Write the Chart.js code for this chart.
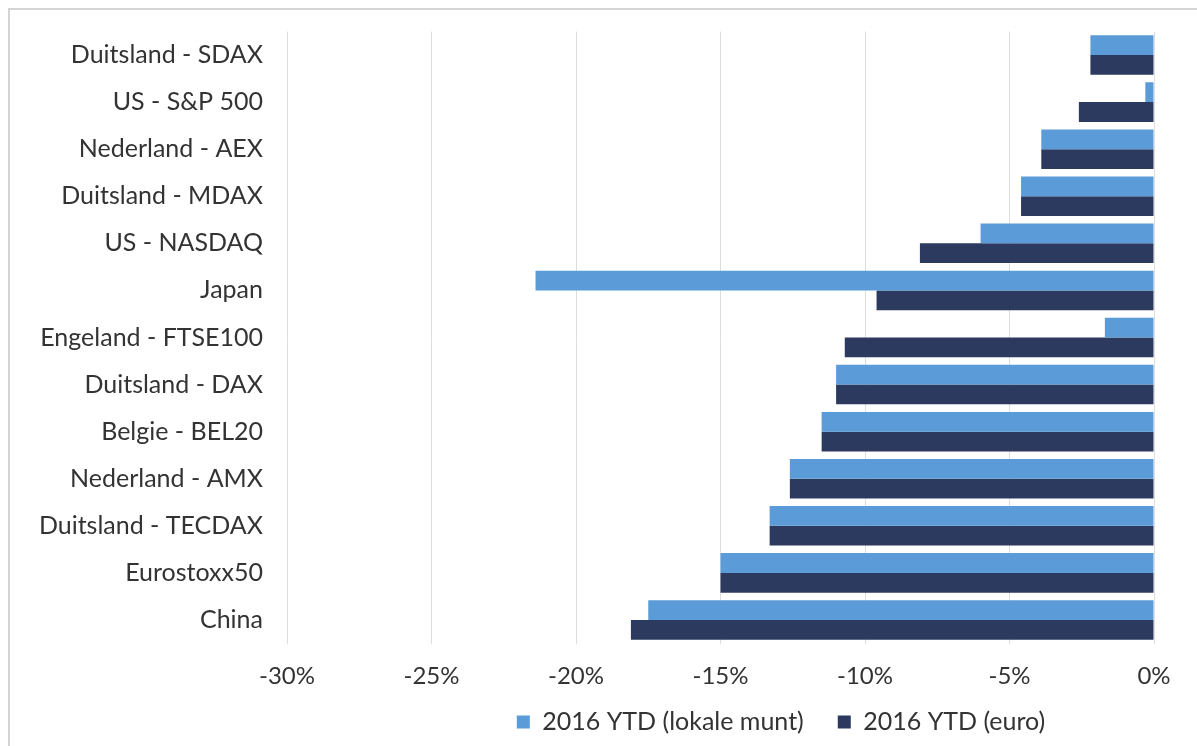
<!DOCTYPE html>
<html>
<head>
<meta charset="utf-8">
<script src="https://cdn.jsdelivr.net/npm/chart.js@4/dist/chart.umd.min.js"></script>
<style>
  html, body { margin: 0; padding: 0; background: #fff; }
  #wrap { position: relative; width: 1197px; height: 746px; }
  #frame { position: absolute; left: 8px; top: 8px; right: 0; bottom: 0;
           border-left: 2px solid #d4d4d4; border-top: 2px solid #d4d4d4; }
  #chart { position: absolute; left: 0; top: 0; }
</style>
</head>
<body>
<div id="wrap">
  <div id="frame"></div>
  <canvas id="chart" width="1197" height="746"></canvas>
</div>
<script>
const labels = [
  'Duitsland - SDAX', 'US - S&P 500', 'Nederland - AEX', 'Duitsland - MDAX',
  'US - NASDAQ', 'Japan', 'Engeland - FTSE100', 'Duitsland - DAX',
  'Belgie - BEL20', 'Nederland - AMX', 'Duitsland - TECDAX', 'Eurostoxx50', 'China'
];
const lokaleMunt = [-2.2, -0.3, -3.9, -4.6, -6.0, -21.4, -1.7, -11.0, -11.5, -12.6, -13.3, -15.0, -17.5];
const euro = [-2.2, -2.6, -3.9, -4.6, -8.1, -9.6, -10.7, -11.0, -11.5, -12.6, -13.3, -15.0, -18.1];
const xTicks = [-30, -25, -20, -15, -10, -5, 0];

const FONT = 'Lato, "Open Sans", sans-serif';
const TEXT = '#333333';
const LEGEND_PAD = 34;
const LEGEND_FONT = 25;

// move the legend to where the original has it (centre x 781, text centre y 722)
const legendShift = {
  id: 'legendShift',
  afterLayout(chart) {
    const lg = chart.legend;
    const dx = 781 - (lg.left + lg.right) / 2;
    lg.left += dx;
    lg.right += dx;
    lg.top = 722 - LEGEND_PAD - LEGEND_FONT / 2;
    lg.bottom = lg.top + LEGEND_PAD + LEGEND_FONT + 20;
  }
};

new Chart(document.getElementById('chart').getContext('2d'), {
  type: 'bar',
  data: {
    labels: labels,
    datasets: [
      {
        label: '2016 YTD (lokale munt)',
        data: lokaleMunt,
        backgroundColor: '#5a9bd8',
        categoryPercentage: 0.84,
        barPercentage: 1.0
      },
      {
        label: '2016 YTD (euro)',
        data: euro,
        backgroundColor: '#2b3a5e',
        categoryPercentage: 0.84,
        barPercentage: 1.0
      }
    ]
  },
  plugins: [legendShift],
  options: {
    indexAxis: 'y',
    responsive: false,
    animation: false,
    layout: {
      padding: { top: 31.5, left: 0, right: 43, bottom: 12.5 }
    },
    plugins: {
      legend: {
        position: 'bottom',
        maxHeight: 40,
        labels: {
          boxWidth: 13,
          boxHeight: 13,
          padding: LEGEND_PAD,
          color: TEXT,
          font: { family: FONT, size: LEGEND_FONT }
        }
      },
      tooltip: { enabled: false }
    },
    scales: {
      x: {
        min: -30,
        max: 0,
        afterBuildTicks: (scale) => {
          scale.ticks = xTicks.map((v) => ({ value: v }));
        },
        afterFit: (scale) => {
          scale.height = 50;
          scale.paddingLeft = 0;
          scale.paddingRight = 0;
        },
        grid: { color: '#dedede', lineWidth: 1, drawTicks: false },
        border: { display: false },
        ticks: {
          padding: 18,
          color: TEXT,
          font: { family: FONT, size: 24 },
          callback: (v) => v + '%'
        }
      },
      y: {
        afterFit: (scale) => {
          scale.width = 287;
          scale.paddingTop = 0;
          scale.paddingBottom = 0;
        },
        grid: { display: false, drawTicks: false },
        border: { display: false },
        ticks: {
          autoSkip: false,
          padding: 24,
          color: TEXT,
          font: { family: FONT, size: 25 }
        }
      }
    }
  }
});
</script>
</body>
</html>
